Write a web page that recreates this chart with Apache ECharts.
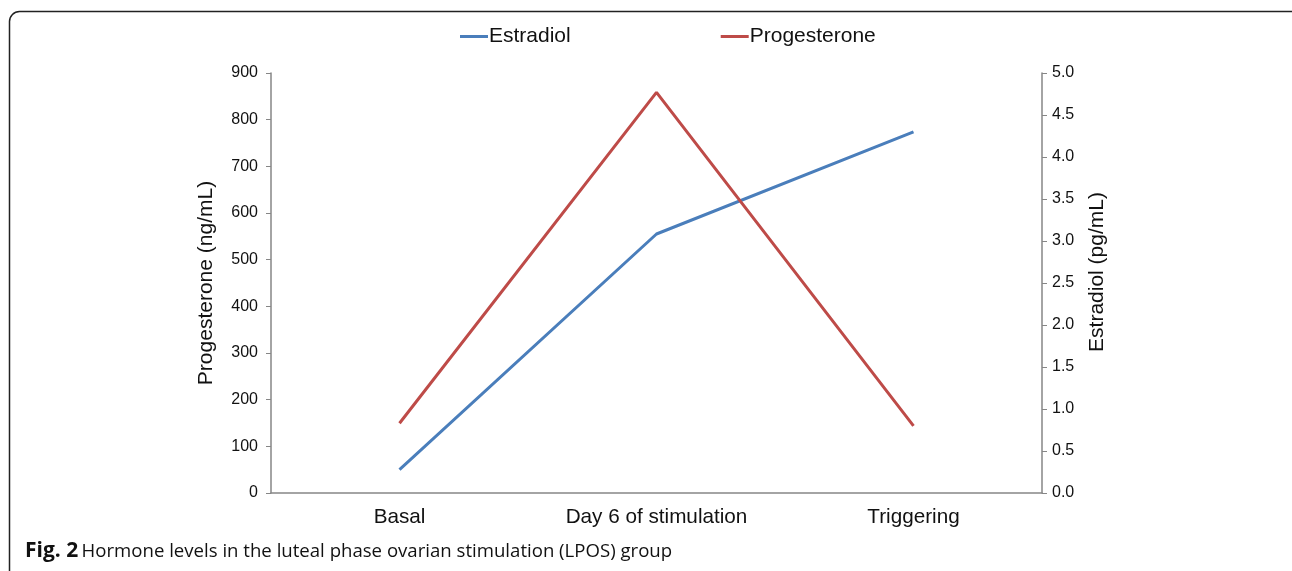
<!DOCTYPE html>
<html>
<head>
<meta charset="utf-8">
<script src="https://cdn.jsdelivr.net/npm/echarts@6/dist/echarts.min.js"></script>
<style>
html,body{margin:0;padding:0;background:#fff;}
#chart{width:1292px;height:571px;}
</style>
</head>
<body>
<div id="chart"></div>
<script>
const categories = ['Basal', 'Day 6 of stimulation', 'Triggering'];
const estradiol = [50, 555, 774];
const progesterone = [0.83, 4.77, 0.80];
const leftTicks = { min: 0, max: 900, interval: 100 };
const rightTicks = { min: 0, max: 5, interval: 0.5 };

const chart = echarts.init(document.getElementById('chart'));
const axisGray = '#868686';
const font = 'Liberation Sans, Arial, sans-serif';
chart.setOption({
  animation: false,
  backgroundColor: '#fff',
  legend: {
    top: 21,
    left: 455,
    itemGap: 150,
    itemWidth: 28,
    itemHeight: 3,
    icon: 'rect',
    textStyle: { fontFamily: font, fontSize: 21, color: '#111', padding: [0, 0, 0, -4] },
    data: ['Estradiol', 'Progesterone']
  },
  grid: { left: 271, right: 250, top: 73, bottom: 78, containLabel: false },
  xAxis: {
    type: 'category',
    data: categories,
    boundaryGap: true,
    axisLine: { lineStyle: { color: axisGray, width: 1.5 } },
    axisTick: { alignWithLabel: true, length: 5, lineStyle: { color: axisGray } },
    axisLabel: { fontFamily: font, fontSize: 20.7, color: '#111', margin: 14 }
  },
  yAxis: [
    {
      type: 'value',
      position: 'left',
      min: leftTicks.min, max: leftTicks.max, interval: leftTicks.interval,
      name: 'Progesterone (ng/mL)',
      nameLocation: 'middle',
      nameGap: 54,
      nameTextStyle: { fontFamily: font, fontSize: 21, color: '#111' },
      splitLine: { show: false },
      axisLine: { show: true, lineStyle: { color: axisGray, width: 1.5 } },
      axisTick: { show: true, length: 5, lineStyle: { color: axisGray } },
      axisLabel: { fontFamily: font, fontSize: 16, color: '#111', margin: 13 }
    },
    {
      type: 'value',
      position: 'right',
      min: rightTicks.min, max: rightTicks.max, interval: rightTicks.interval,
      name: 'Estradiol (pg/mL)',
      nameLocation: 'middle',
      nameGap: 45,
      nameTextStyle: { fontFamily: font, fontSize: 21, color: '#111', padding: [0, 0, 0, 22] },
      splitLine: { show: false },
      axisLine: { show: true, lineStyle: { color: axisGray, width: 1.5 } },
      axisTick: { show: true, length: 5, lineStyle: { color: axisGray } },
      axisLabel: { fontFamily: font, fontSize: 16, color: '#111', margin: 10,
        formatter: v => v.toFixed(1) }
    }
  ],
  series: [
    {
      name: 'Estradiol', type: 'line', yAxisIndex: 0, data: estradiol,
      symbol: 'none', itemStyle: { color: '#4a7ebb' },
      lineStyle: { color: '#4a7ebb', width: 3 }
    },
    {
      name: 'Progesterone', type: 'line', yAxisIndex: 1, data: progesterone,
      symbol: 'none', itemStyle: { color: '#be4b48' },
      lineStyle: { color: '#be4b48', width: 3 }
    }
  ],
  graphic: [
    {
      type: 'rect', left: 7, top: 9, silent: true,
      shape: { width: 1300, height: 600, r: 10 },
      style: { fill: 'none', stroke: '#222', lineWidth: 1.5 }
    },
    {
      type: 'text', left: 25, top: 541,
      style: {
        rich: {
          b: { fontFamily: 'Open Sans', fontWeight: 'bold', fontSize: 21, fill: '#111' },
          n: { fontFamily: 'Open Sans', fontSize: 18.6, fill: '#111' }
        },
        text: '{b|Fig. 2} {n|Hormone levels in the luteal phase ovarian stimulation (LPOS) group}'
      }
    }
  ]
});
</script>
</body>
</html>
